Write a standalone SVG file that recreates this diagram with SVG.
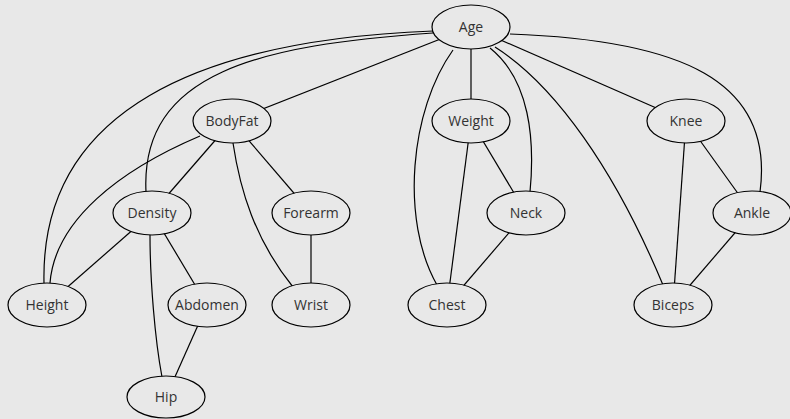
<svg xmlns="http://www.w3.org/2000/svg" width="790" height="419" viewBox="0 0 790 419">
<style>
.e{fill:none;stroke:#000;stroke-width:1.2}
.n ellipse{fill:#e8e8e8;stroke:#000;stroke-width:1.2}
.n text{font-family:"Open Sans","Noto Sans",sans-serif;font-size:14px;fill:#333;text-anchor:middle}
</style>
<rect width="790" height="419" fill="#e8e8e8"/>
<g id="edges">
<path class="e" d="M471,27 L232,121"/>
<path class="e" d="M433,31 C200,40 40,110 44,283"/>
<path class="e" d="M433,33 C260,45 140,72 146,192"/>
<path class="e" d="M200,136 C120,170 55,220 50,283"/>
<path class="e" d="M232,121 L152,213"/>
<path class="e" d="M233,143 C240,190 255,240 293,287"/>
<path class="e" d="M232,121 L311,213"/>
<path class="e" d="M152,213 L47,305"/>
<path class="e" d="M150,235 C150,280 155,340 162,377"/>
<path class="e" d="M152,213 L207,305"/>
<path class="e" d="M207,305 L166,397"/>
<path class="e" d="M311,213 L311,305"/>
<path class="e" d="M471,27 L471,121"/>
<path class="e" d="M453,50 C410,110 400,220 437,285"/>
<path class="e" d="M490,48 C530,80 535,140 530,192"/>
<path class="e" d="M495,47 C555,85 615,170 663,285"/>
<path class="e" d="M471,27 L686,121"/>
<path class="e" d="M510,34 C680,40 775,80 760,192"/>
<path class="e" d="M471,121 L526,213"/>
<path class="e" d="M471,121 L447,305"/>
<path class="e" d="M526,213 L447,305"/>
<path class="e" d="M686,121 L673,305"/>
<path class="e" d="M686,121 L752,213"/>
<path class="e" d="M752,213 L673,305"/>
</g>
<g id="Age" class="n"><ellipse cx="471" cy="27" rx="39" ry="22"/><text x="471" y="32">Age</text></g>
<g id="BodyFat" class="n"><ellipse cx="232" cy="121" rx="39" ry="22"/><text x="232" y="126">BodyFat</text></g>
<g id="Weight" class="n"><ellipse cx="471" cy="121" rx="39" ry="22"/><text x="471" y="126">Weight</text></g>
<g id="Knee" class="n"><ellipse cx="686" cy="121" rx="39" ry="22"/><text x="686" y="126">Knee</text></g>
<g id="Density" class="n"><ellipse cx="152" cy="213" rx="39" ry="22"/><text x="152" y="218">Density</text></g>
<g id="Forearm" class="n"><ellipse cx="311" cy="213" rx="39" ry="22"/><text x="311" y="218">Forearm</text></g>
<g id="Neck" class="n"><ellipse cx="526" cy="213" rx="39" ry="22"/><text x="526" y="218">Neck</text></g>
<g id="Ankle" class="n"><ellipse cx="752" cy="213" rx="39" ry="22"/><text x="752" y="218">Ankle</text></g>
<g id="Height" class="n"><ellipse cx="47" cy="305" rx="39" ry="22"/><text x="47" y="310">Height</text></g>
<g id="Abdomen" class="n"><ellipse cx="207" cy="305" rx="39" ry="22"/><text x="207" y="310">Abdomen</text></g>
<g id="Wrist" class="n"><ellipse cx="311" cy="305" rx="39" ry="22"/><text x="311" y="310">Wrist</text></g>
<g id="Chest" class="n"><ellipse cx="447" cy="305" rx="39" ry="22"/><text x="447" y="310">Chest</text></g>
<g id="Biceps" class="n"><ellipse cx="673" cy="305" rx="39" ry="22"/><text x="673" y="310">Biceps</text></g>
<g id="Hip" class="n"><ellipse cx="166" cy="397" rx="39" ry="21"/><text x="166" y="402">Hip</text></g>
</svg>
